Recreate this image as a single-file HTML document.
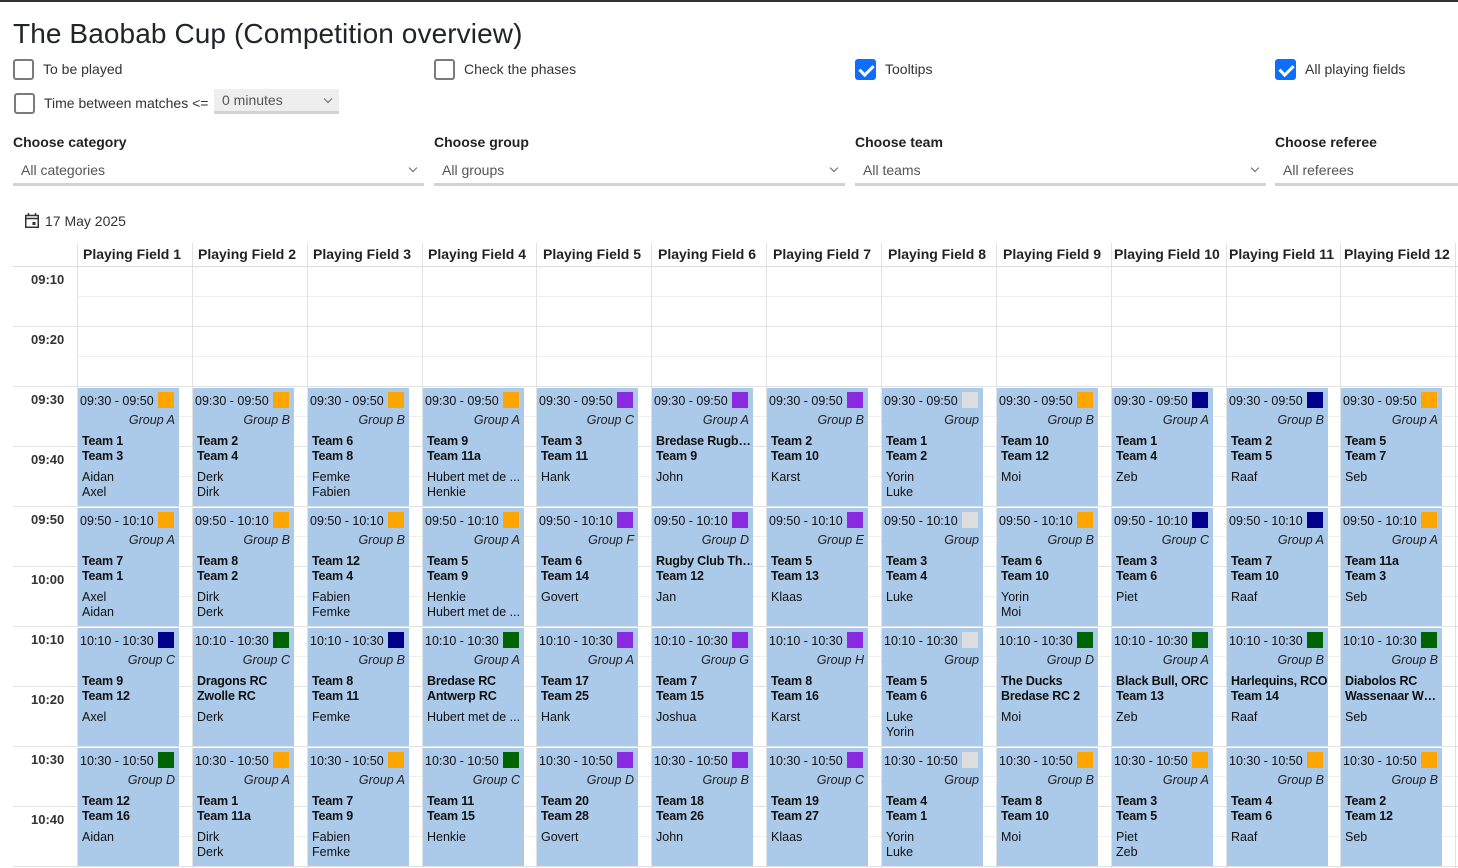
<!DOCTYPE html>
<html><head><meta charset="utf-8"><style>
*{box-sizing:border-box;margin:0;padding:0}
body{width:1458px;height:868px;overflow:hidden;background:#fff;font-family:"Liberation Sans",Arial,sans-serif;color:#212529;position:relative}
.a{position:absolute;white-space:nowrap}
.title{left:13px;top:18px;font-size:28px;color:#212529;font-family:"Liberation Sans",sans-serif;font-weight:400;letter-spacing:0.1px}
.cb{position:absolute;width:21px;height:21px;border:2px solid #7a7a86;border-radius:3px;background:#fff}
.cb.on{background:#0d6efd;border-color:#0d6efd}
.cb.on:after{content:"";position:absolute;left:5px;top:1px;width:6px;height:11px;border:solid #fff;border-width:0 3px 3px 0;transform:rotate(45deg)}
.lb{font-size:14px;color:#333;font-family:"Liberation Sans",sans-serif}
.hd{font-size:14px;font-weight:bold;color:#222;font-family:"Liberation Sans",sans-serif}
.sel{position:absolute;height:28px;border-bottom:3px solid #d0d4da;font-size:14px;color:#555;padding:4px 0 0 8px;font-family:"Liberation Sans",sans-serif}
.sel:after{content:"";position:absolute;right:8px;top:7px;width:5px;height:5px;border:solid #666;border-width:0 1.5px 1.5px 0;transform:rotate(45deg)}
.sel.nc:after{display:none}
.vl{position:absolute;top:243px;bottom:0;width:1px;background:#e2e2e2}
.hl{position:absolute;height:1px;background:#e2e2e2;right:0}
.ph{position:absolute;top:246px;font-size:14px;font-weight:bold;color:#222}
.tl{position:absolute;left:31px;font-size:13px;font-weight:bold;color:#333}
.c{position:absolute;width:101px;height:118px;background:#abc9e8;font-size:12.5px;color:#111;overflow:hidden}
.c .t{position:absolute;left:2px;top:6px}
.c .sq{position:absolute;right:5px;top:4px;width:16px;height:16px}
.c .g{position:absolute;right:4px;top:25px;font-style:italic;color:#222}
.c .m{position:absolute;left:4px;top:46px;font-weight:bold;line-height:15px;width:96px;white-space:nowrap;overflow:hidden;letter-spacing:-0.2px}
.c .r{position:absolute;left:4px;top:82px;line-height:15px;white-space:nowrap}
.O{background:#ffa500}.P{background:#8a2be2}.N{background:#00008b}.G{background:#006400}.L{background:#ddd}
</style></head><body>
<div class="a" style="left:0;top:0;width:1458px;height:2px;background:#333"></div>
<div class="a title">The Baobab Cup (Competition overview)</div>

<div class="cb" style="left:13px;top:59px"></div><div class="a lb" style="left:43px;top:61px">To be played</div>
<div class="cb" style="left:434px;top:59px"></div><div class="a lb" style="left:464px;top:61px">Check the phases</div>
<div class="cb on" style="left:855px;top:59px"></div><div class="a lb" style="left:885px;top:61px">Tooltips</div>
<div class="cb on" style="left:1275px;top:59px"></div><div class="a lb" style="left:1305px;top:61px">All playing fields</div>
<div class="cb" style="left:14px;top:93px"></div><div class="a lb" style="left:44px;top:95px">Time between matches &lt;=</div>
<div class="sel" style="left:214px;top:89px;width:125px;height:25px;background:#eee;padding-top:3px">0 minutes</div>

<div class="a hd" style="left:13px;top:134px">Choose category</div>
<div class="a hd" style="left:434px;top:134px">Choose group</div>
<div class="a hd" style="left:855px;top:134px">Choose team</div>
<div class="a hd" style="left:1275px;top:134px">Choose referee</div>
<div class="sel" style="left:13px;top:158px;width:411px">All categories</div>
<div class="sel" style="left:434px;top:158px;width:411px">All groups</div>
<div class="sel" style="left:855px;top:158px;width:411px">All teams</div>
<div class="sel nc" style="left:1275px;top:158px;width:183px">All referees</div>

<svg class="a" style="left:25px;top:213px" width="14" height="15" viewBox="0 0 14 15"><rect x="0.75" y="2.5" width="12.5" height="11.75" fill="none" stroke="#333" stroke-width="1.5"/><line x1="0.75" y1="5.5" x2="13.25" y2="5.5" stroke="#333" stroke-width="1.5"/><line x1="3.5" y1="0" x2="3.5" y2="3" stroke="#333" stroke-width="1.5"/><line x1="10.5" y1="0" x2="10.5" y2="3" stroke="#333" stroke-width="1.5"/><rect x="7.5" y="9" width="3" height="3" fill="#333"/></svg>
<div class="a" style="left:45px;top:213px;font-size:14px;color:#333">17 May 2025</div>

<div class="hl" style="left:13px;top:266px;background:#dcdcdc"></div>
<div class="hl" style="left:78px;top:296px;background:#eee"></div>
<div class="hl" style="left:13px;top:326px"></div>
<div class="hl" style="left:78px;top:356px;background:#eee"></div>
<div class="hl" style="left:13px;top:386px"></div>
<div class="hl" style="left:78px;top:416px;background:#eee"></div>
<div class="hl" style="left:13px;top:446px"></div>
<div class="hl" style="left:78px;top:476px;background:#eee"></div>
<div class="hl" style="left:13px;top:506px"></div>
<div class="hl" style="left:78px;top:536px;background:#eee"></div>
<div class="hl" style="left:13px;top:566px"></div>
<div class="hl" style="left:78px;top:596px;background:#eee"></div>
<div class="hl" style="left:13px;top:626px"></div>
<div class="hl" style="left:78px;top:656px;background:#eee"></div>
<div class="hl" style="left:13px;top:686px"></div>
<div class="hl" style="left:78px;top:716px;background:#eee"></div>
<div class="hl" style="left:13px;top:746px"></div>
<div class="hl" style="left:78px;top:776px;background:#eee"></div>
<div class="hl" style="left:13px;top:806px"></div>
<div class="hl" style="left:78px;top:836px;background:#eee"></div>
<div class="hl" style="left:13px;top:866px"></div>

<div class="vl" style="left:77px"></div><div class="vl" style="left:192px"></div><div class="vl" style="left:307px"></div><div class="vl" style="left:422px"></div><div class="vl" style="left:536px"></div><div class="vl" style="left:651px"></div><div class="vl" style="left:766px"></div><div class="vl" style="left:881px"></div><div class="vl" style="left:996px"></div><div class="vl" style="left:1111px"></div><div class="vl" style="left:1226px"></div><div class="vl" style="left:1340px"></div><div class="vl" style="left:1455px"></div>

<div class="ph" style="left:83px">Playing Field 1</div>
<div class="ph" style="left:198px">Playing Field 2</div>
<div class="ph" style="left:313px">Playing Field 3</div>
<div class="ph" style="left:428px">Playing Field 4</div>
<div class="ph" style="left:543px">Playing Field 5</div>
<div class="ph" style="left:658px">Playing Field 6</div>
<div class="ph" style="left:773px">Playing Field 7</div>
<div class="ph" style="left:888px">Playing Field 8</div>
<div class="ph" style="left:1003px">Playing Field 9</div>
<div class="ph" style="left:1114px">Playing Field 10</div>
<div class="ph" style="left:1229px">Playing Field 11</div>
<div class="ph" style="left:1344px">Playing Field 12</div>

<div class="tl" style="top:272px">09:10</div>
<div class="tl" style="top:332px">09:20</div>
<div class="tl" style="top:392px">09:30</div>
<div class="tl" style="top:452px">09:40</div>
<div class="tl" style="top:512px">09:50</div>
<div class="tl" style="top:572px">10:00</div>
<div class="tl" style="top:632px">10:10</div>
<div class="tl" style="top:692px">10:20</div>
<div class="tl" style="top:752px">10:30</div>
<div class="tl" style="top:812px">10:40</div>

<div class="c" style="left:78px;top:388px"><span class="t">09:30 - 09:50</span><i class="sq O"></i><div class="g">Group A</div><div class="m">Team 1<br>Team 3</div><div class="r">Aidan<br>Axel</div></div>
<div class="c" style="left:193px;top:388px"><span class="t">09:30 - 09:50</span><i class="sq O"></i><div class="g">Group B</div><div class="m">Team 2<br>Team 4</div><div class="r">Derk<br>Dirk</div></div>
<div class="c" style="left:308px;top:388px"><span class="t">09:30 - 09:50</span><i class="sq O"></i><div class="g">Group B</div><div class="m">Team 6<br>Team 8</div><div class="r">Femke<br>Fabien</div></div>
<div class="c" style="left:423px;top:388px"><span class="t">09:30 - 09:50</span><i class="sq O"></i><div class="g">Group A</div><div class="m">Team 9<br>Team 11a</div><div class="r">Hubert met de ...<br>Henkie</div></div>
<div class="c" style="left:537px;top:388px"><span class="t">09:30 - 09:50</span><i class="sq P"></i><div class="g">Group C</div><div class="m">Team 3<br>Team 11</div><div class="r">Hank</div></div>
<div class="c" style="left:652px;top:388px"><span class="t">09:30 - 09:50</span><i class="sq P"></i><div class="g">Group A</div><div class="m">Bredase Rugb…<br>Team 9</div><div class="r">John</div></div>
<div class="c" style="left:767px;top:388px"><span class="t">09:30 - 09:50</span><i class="sq P"></i><div class="g">Group B</div><div class="m">Team 2<br>Team 10</div><div class="r">Karst</div></div>
<div class="c" style="left:882px;top:388px"><span class="t">09:30 - 09:50</span><i class="sq L"></i><div class="g">Group</div><div class="m">Team 1<br>Team 2</div><div class="r">Yorin<br>Luke</div></div>
<div class="c" style="left:997px;top:388px"><span class="t">09:30 - 09:50</span><i class="sq O"></i><div class="g">Group B</div><div class="m">Team 10<br>Team 12</div><div class="r">Moi</div></div>
<div class="c" style="left:1112px;top:388px"><span class="t">09:30 - 09:50</span><i class="sq N"></i><div class="g">Group A</div><div class="m">Team 1<br>Team 4</div><div class="r">Zeb</div></div>
<div class="c" style="left:1227px;top:388px"><span class="t">09:30 - 09:50</span><i class="sq N"></i><div class="g">Group B</div><div class="m">Team 2<br>Team 5</div><div class="r">Raaf</div></div>
<div class="c" style="left:1341px;top:388px"><span class="t">09:30 - 09:50</span><i class="sq O"></i><div class="g">Group A</div><div class="m">Team 5<br>Team 7</div><div class="r">Seb</div></div>

<div class="c" style="left:78px;top:508px"><span class="t">09:50 - 10:10</span><i class="sq O"></i><div class="g">Group A</div><div class="m">Team 7<br>Team 1</div><div class="r">Axel<br>Aidan</div></div>
<div class="c" style="left:193px;top:508px"><span class="t">09:50 - 10:10</span><i class="sq O"></i><div class="g">Group B</div><div class="m">Team 8<br>Team 2</div><div class="r">Dirk<br>Derk</div></div>
<div class="c" style="left:308px;top:508px"><span class="t">09:50 - 10:10</span><i class="sq O"></i><div class="g">Group B</div><div class="m">Team 12<br>Team 4</div><div class="r">Fabien<br>Femke</div></div>
<div class="c" style="left:423px;top:508px"><span class="t">09:50 - 10:10</span><i class="sq O"></i><div class="g">Group A</div><div class="m">Team 5<br>Team 9</div><div class="r">Henkie<br>Hubert met de ...</div></div>
<div class="c" style="left:537px;top:508px"><span class="t">09:50 - 10:10</span><i class="sq P"></i><div class="g">Group F</div><div class="m">Team 6<br>Team 14</div><div class="r">Govert</div></div>
<div class="c" style="left:652px;top:508px"><span class="t">09:50 - 10:10</span><i class="sq P"></i><div class="g">Group D</div><div class="m">Rugby Club Th…<br>Team 12</div><div class="r">Jan</div></div>
<div class="c" style="left:767px;top:508px"><span class="t">09:50 - 10:10</span><i class="sq P"></i><div class="g">Group E</div><div class="m">Team 5<br>Team 13</div><div class="r">Klaas</div></div>
<div class="c" style="left:882px;top:508px"><span class="t">09:50 - 10:10</span><i class="sq L"></i><div class="g">Group</div><div class="m">Team 3<br>Team 4</div><div class="r">Luke</div></div>
<div class="c" style="left:997px;top:508px"><span class="t">09:50 - 10:10</span><i class="sq O"></i><div class="g">Group B</div><div class="m">Team 6<br>Team 10</div><div class="r">Yorin<br>Moi</div></div>
<div class="c" style="left:1112px;top:508px"><span class="t">09:50 - 10:10</span><i class="sq N"></i><div class="g">Group C</div><div class="m">Team 3<br>Team 6</div><div class="r">Piet</div></div>
<div class="c" style="left:1227px;top:508px"><span class="t">09:50 - 10:10</span><i class="sq N"></i><div class="g">Group A</div><div class="m">Team 7<br>Team 10</div><div class="r">Raaf</div></div>
<div class="c" style="left:1341px;top:508px"><span class="t">09:50 - 10:10</span><i class="sq O"></i><div class="g">Group A</div><div class="m">Team 11a<br>Team 3</div><div class="r">Seb</div></div>

<div class="c" style="left:78px;top:628px"><span class="t">10:10 - 10:30</span><i class="sq N"></i><div class="g">Group C</div><div class="m">Team 9<br>Team 12</div><div class="r">Axel</div></div>
<div class="c" style="left:193px;top:628px"><span class="t">10:10 - 10:30</span><i class="sq G"></i><div class="g">Group C</div><div class="m">Dragons RC<br>Zwolle RC</div><div class="r">Derk</div></div>
<div class="c" style="left:308px;top:628px"><span class="t">10:10 - 10:30</span><i class="sq N"></i><div class="g">Group B</div><div class="m">Team 8<br>Team 11</div><div class="r">Femke</div></div>
<div class="c" style="left:423px;top:628px"><span class="t">10:10 - 10:30</span><i class="sq G"></i><div class="g">Group A</div><div class="m">Bredase RC<br>Antwerp RC</div><div class="r">Hubert met de ...</div></div>
<div class="c" style="left:537px;top:628px"><span class="t">10:10 - 10:30</span><i class="sq P"></i><div class="g">Group A</div><div class="m">Team 17<br>Team 25</div><div class="r">Hank</div></div>
<div class="c" style="left:652px;top:628px"><span class="t">10:10 - 10:30</span><i class="sq P"></i><div class="g">Group G</div><div class="m">Team 7<br>Team 15</div><div class="r">Joshua</div></div>
<div class="c" style="left:767px;top:628px"><span class="t">10:10 - 10:30</span><i class="sq P"></i><div class="g">Group H</div><div class="m">Team 8<br>Team 16</div><div class="r">Karst</div></div>
<div class="c" style="left:882px;top:628px"><span class="t">10:10 - 10:30</span><i class="sq L"></i><div class="g">Group</div><div class="m">Team 5<br>Team 6</div><div class="r">Luke<br>Yorin</div></div>
<div class="c" style="left:997px;top:628px"><span class="t">10:10 - 10:30</span><i class="sq G"></i><div class="g">Group D</div><div class="m">The Ducks<br>Bredase RC 2</div><div class="r">Moi</div></div>
<div class="c" style="left:1112px;top:628px"><span class="t">10:10 - 10:30</span><i class="sq G"></i><div class="g">Group A</div><div class="m">Black Bull, ORC<br>Team 13</div><div class="r">Zeb</div></div>
<div class="c" style="left:1227px;top:628px"><span class="t">10:10 - 10:30</span><i class="sq G"></i><div class="g">Group B</div><div class="m">Harlequins, RCO<br>Team 14</div><div class="r">Raaf</div></div>
<div class="c" style="left:1341px;top:628px"><span class="t">10:10 - 10:30</span><i class="sq G"></i><div class="g">Group B</div><div class="m">Diabolos RC<br>Wassenaar W…</div><div class="r">Seb</div></div>

<div class="c" style="left:78px;top:748px"><span class="t">10:30 - 10:50</span><i class="sq G"></i><div class="g">Group D</div><div class="m">Team 12<br>Team 16</div><div class="r">Aidan</div></div>
<div class="c" style="left:193px;top:748px"><span class="t">10:30 - 10:50</span><i class="sq O"></i><div class="g">Group A</div><div class="m">Team 1<br>Team 11a</div><div class="r">Dirk<br>Derk</div></div>
<div class="c" style="left:308px;top:748px"><span class="t">10:30 - 10:50</span><i class="sq O"></i><div class="g">Group A</div><div class="m">Team 7<br>Team 9</div><div class="r">Fabien<br>Femke</div></div>
<div class="c" style="left:423px;top:748px"><span class="t">10:30 - 10:50</span><i class="sq G"></i><div class="g">Group C</div><div class="m">Team 11<br>Team 15</div><div class="r">Henkie</div></div>
<div class="c" style="left:537px;top:748px"><span class="t">10:30 - 10:50</span><i class="sq P"></i><div class="g">Group D</div><div class="m">Team 20<br>Team 28</div><div class="r">Govert</div></div>
<div class="c" style="left:652px;top:748px"><span class="t">10:30 - 10:50</span><i class="sq P"></i><div class="g">Group B</div><div class="m">Team 18<br>Team 26</div><div class="r">John</div></div>
<div class="c" style="left:767px;top:748px"><span class="t">10:30 - 10:50</span><i class="sq P"></i><div class="g">Group C</div><div class="m">Team 19<br>Team 27</div><div class="r">Klaas</div></div>
<div class="c" style="left:882px;top:748px"><span class="t">10:30 - 10:50</span><i class="sq L"></i><div class="g">Group</div><div class="m">Team 4<br>Team 1</div><div class="r">Yorin<br>Luke</div></div>
<div class="c" style="left:997px;top:748px"><span class="t">10:30 - 10:50</span><i class="sq O"></i><div class="g">Group B</div><div class="m">Team 8<br>Team 10</div><div class="r">Moi</div></div>
<div class="c" style="left:1112px;top:748px"><span class="t">10:30 - 10:50</span><i class="sq O"></i><div class="g">Group A</div><div class="m">Team 3<br>Team 5</div><div class="r">Piet<br>Zeb</div></div>
<div class="c" style="left:1227px;top:748px"><span class="t">10:30 - 10:50</span><i class="sq O"></i><div class="g">Group B</div><div class="m">Team 4<br>Team 6</div><div class="r">Raaf</div></div>
<div class="c" style="left:1341px;top:748px"><span class="t">10:30 - 10:50</span><i class="sq O"></i><div class="g">Group B</div><div class="m">Team 2<br>Team 12</div><div class="r">Seb</div></div>
</body></html>
